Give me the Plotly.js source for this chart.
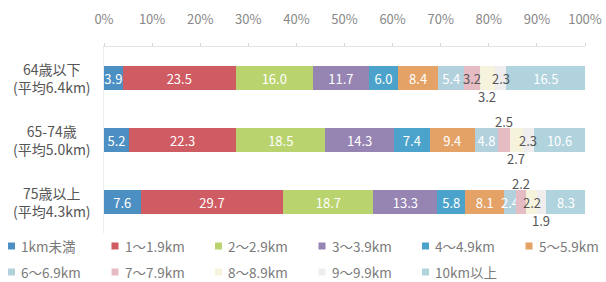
<!DOCTYPE html>
<html>
<head>
<meta charset="utf-8">
<script src="https://cdn.plot.ly/plotly-3.0.1.min.js"></script>
<style>html,body{margin:0;padding:0;background:#fff}#chart{width:606px;height:282px}</style>
</head>
<body>
<div id="chart"></div>
<script>
// Categories (age groups) and their average distance line
const categories = ['64歳以下', '65-74歳', '75歳以上'];
const averages = ['(平均6.4km)', '(平均5.0km)', '(平均4.3km)'];

// Distance bands (series names)
const seriesNames = ['1km未満', '1～1.9km', '2～2.9km', '3～3.9km', '4～4.9km', '5～5.9km',
  '6～6.9km', '7～7.9km', '8～8.9km', '9～9.9km', '10km以上'];

// Shares (%) per band, ordered by category
const s_lt1   = [3.9, 5.2, 7.6];
const s_1_19  = [23.5, 22.3, 29.7];
const s_2_29  = [16.0, 18.5, 18.7];
const s_3_39  = [11.7, 14.3, 13.3];
const s_4_49  = [6.0, 7.4, 5.8];
const s_5_59  = [8.4, 9.4, 8.1];
const s_6_69  = [5.4, 4.8, 2.4];
const s_7_79  = [3.2, 2.5, 2.2];
const s_8_89  = [3.2, 2.7, 2.2];
const s_9_99  = [2.3, 2.3, 1.9];
const s_10up  = [16.5, 10.6, 8.3];
const seriesValues = [s_lt1, s_1_19, s_2_29, s_3_39, s_4_49, s_5_59, s_6_69, s_7_79, s_8_89, s_9_99, s_10up];

// Axis tick labels
const tickVals = [0, 10, 20, 30, 40, 50, 60, 70, 80, 90, 100];
const tickText = tickVals.map(v => v + '%');

// Label placement per band/category: 'w' white inside, 'd' dark on the bar, 'a' above, 'b' below
const labelPlace = [
  ['w','w','w'], ['w','w','w'], ['w','w','w'], ['w','w','w'], ['w','w','w'], ['w','w','w'],
  ['w','w','w'], ['d','a','a'], ['b','b','d'], ['d','d','b'], ['w','w','w']
];

const colors = ['#4b8fc3', '#cf5b63', '#b9d36f', '#9684b3', '#4ba3cb', '#e4a266',
  '#b3d1dd', '#e6bcc4', '#f6f3dc', '#efeded', '#b0d3de'];

const FONT = '"Noto Sans CJK JP", "Noto Sans", sans-serif';

// plot-area geometry (px) used to place the hand-drawn legend in paper coordinates
const W = 606, H = 282, ML = 104, MR = 21, MT = 47, MB = 49;
const PW = W - ML - MR, PH = H - MT - MB;
const px2x = px => (px - ML) / PW;
const py2y = py => (H - MB - py) / PH;

const traces = seriesNames.map((name, i) => {
  const vals = seriesValues[i];
  return {
    type: 'bar', orientation: 'h', name: name,
    y: categories, x: vals,
    marker: {color: colors[i], line: {width: 0}},
    text: vals.map((v, j) => labelPlace[i][j] === 'w' ? v.toFixed(1) : ''),
    textposition: 'inside', insidetextanchor: 'middle', textangle: 0,
    textfont: {family: FONT, size: 13, color: '#ffffff'},
    hoverinfo: 'name+x', showlegend: false
  };
});

const annotations = [];
const shapes = [];
categories.forEach((c, j) => {
  annotations.push({
    xref: 'paper', yref: 'y', x: px2x(52), y: c, xanchor: 'center', yanchor: 'middle',
    text: c + '<br>' + averages[j], showarrow: false, align: 'center',
    font: {family: FONT, size: 14, color: '#555555'}
  });
  let cum = 0;
  seriesValues.forEach((vals, i) => {
    const v = vals[j];
    const p = labelPlace[i][j];
    if (p === 'a' || p === 'b' || p === 'd') {
      annotations.push({
        xref: 'x', yref: 'y', x: cum + v / 2, y: c, showarrow: false,
        text: v.toFixed(1), yshift: p === 'a' ? 19 : (p === 'b' ? -18 : 0),
        font: {family: FONT, size: 13, color: '#555555'}
      });
    }
    cum += v;
  });
});

// legend: 6 entries per row
seriesNames.forEach((name, i) => {
  const col = i % 6, row = Math.floor(i / 6);
  const sx = 8 + col * 103.5, sy = 246 + row * 26;
  shapes.push({
    type: 'rect', xref: 'paper', yref: 'paper',
    x0: px2x(sx), x1: px2x(sx + 7), y0: py2y(sy - 3.5), y1: py2y(sy + 3.5),
    fillcolor: colors[i], line: {width: 0}
  });
  annotations.push({
    xref: 'paper', yref: 'paper', x: px2x(sx + 11), y: py2y(sy), xanchor: 'left', yanchor: 'middle',
    text: name, showarrow: false, font: {family: FONT, size: 13.5, color: '#7a7a7a'}
  });
});

const layout = {
  width: W, height: H,
  margin: {l: ML, r: MR, t: MT, b: MB, pad: 0},
  paper_bgcolor: '#ffffff', plot_bgcolor: '#ffffff',
  barmode: 'stack', bargap: 0.6,
  font: {family: FONT, color: '#777777'},
  showlegend: false,
  xaxis: {
    side: 'top', range: [0, 100], tickvals: tickVals, ticktext: tickText,
    tickfont: {family: FONT, size: 13, color: '#888888'},
    showgrid: false, zeroline: false, showline: true, linecolor: '#e2e2e2', linewidth: 1,
    ticks: 'outside', ticklen: 3, tickcolor: '#d6d6d6', ticklabelstandoff: 14, fixedrange: true
  },
  yaxis: {
    type: 'category', autorange: 'reversed', showticklabels: false,
    showgrid: false, zeroline: false, showline: true, linecolor: '#ececec', ticks: '', fixedrange: true
  },
  uniformtext: {mode: 'show', minsize: 13},
  annotations: annotations,
  shapes: shapes
};

Plotly.newPlot('chart', traces, layout, {displayModeBar: false, staticPlot: true});
</script>
</body>
</html>
